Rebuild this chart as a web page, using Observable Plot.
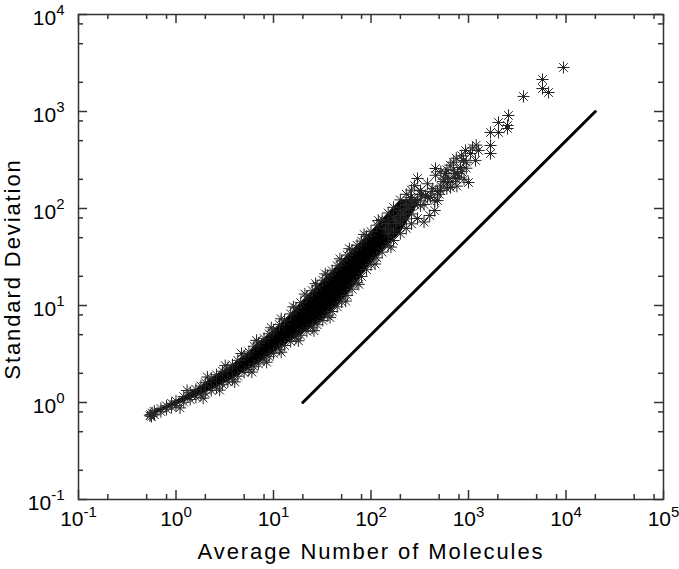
<!DOCTYPE html>
<html><head><meta charset="utf-8">
<script src="https://cdn.jsdelivr.net/npm/d3@7"></script>
<script src="https://cdn.jsdelivr.net/npm/@observablehq/plot@0.6"></script>
<style>
body{margin:0;background:#fff;}
</style></head><body><div id="chart"></div>
<script>
// ---- data ----
const xTitle = "Average Number of Molecules";
const yTitle = "Standard Deviation";
const majorX = [0.1, 1, 10, 100, 1000, 10000, 100000];
const minorX = [0.2,0.5,0.8,2,5,8,20,50,80,200,500,800,2000,5000,8000,20000,50000,80000];
const majorY = [0.1, 1, 10, 100, 1000, 10000];
const minorY = [0.2,0.5,0.8,2,5,8,20,50,80,200,500,800,2000,5000,8000];

// dense core of the cloud: x with lower / upper envelope of point centres
const bandX = [0.6,0.7,0.8,0.9,1,1.2,1.4,1.6,1.8,2,2.3,2.6,3,3.4,3.8,4.3,5,5.6,6.3,7,8,9,10,11.5,13,15,17,19,22,25,28,32,36,40,45,50,57,64,72,80,90,100,115,130,150,170,200,230,260];
const bandHigh = [0.815,0.867,0.922,0.981,1.039,1.15,1.259,1.365,1.479,1.6,1.78,1.93,2.1,2.26,2.45,2.72,3.03,3.32,3.8,4.11,4.58,5.1,5.6,6.35,7.07,8.2,9.45,10.7,12.5,14.2,15.9,18.2,20.5,22.8,25.7,28.8,33.1,37.3,41.7,46.1,51.7,57.7,67.3,77.1,89.9,102.8,122.7,140,154.5];
const bandLow = [0.748,0.804,0.851,0.894,0.933,1.007,1.074,1.134,1.195,1.25,1.33,1.414,1.526,1.63,1.734,1.867,2.04,2.18,2.34,2.5,2.74,2.97,3.21,3.54,3.87,4.25,4.6,4.93,5.42,5.89,6.34,7.02,7.85,8.67,9.7,10.9,12.7,14.7,17.2,19.9,23.4,26.4,31,35.5,41.2,46.8,55,62.4,69.5];
const coreMaxX = 200;   // solid core drawn up to here ...
const coreEndX = 330;   // ... then tapering to a point here
const coreEndY = 125;

// lower-left tip of the cloud
const tipX = [0.54,0.55,0.57,0.56];
const tipY = [0.73,0.75,0.78,0.72];

// points sticking out of the band edges
const spikeX = [1.3,2.1,3.2,4.7,6.7,9.5,12,16,21,27,34,48,60,85, 1.1,1.9,2.8,4,6,8.5,12,18,26,38,55,75,110,160];
const spikeY = [1.33,1.83,2.4,3.2,4.37,5.9,7.3,9.7,13.1,16.8,21.2,30.3,38.5,54, 0.88,1.11,1.34,1.63,2.06,2.6,3.3,4.33,5.5,7.5,11.1,16.5,26.8,40];

// points inside the thinning upper part of the cloud
const midX = [140,150,150,170,170,185,200,200,215,230,230,245,260,260,280,300,320,350,380,420,450,460,480,520,520,550,600,600,620,650,680,700,720,750,760,850,850,900,950,950,1100,1200];
const midY = [62,55,70,60,80,75,70,95,88,78,110,100,88,125,110,120,140,110,130,150,120,220,150,170,240,190,160,250,210,280,190,300,230,330,170,240,350,200,260,300,420,450];

// sparse points at high averages
const sparseX = [119,178,201,226,267,254,300,322,322,362,300,350,400,450,407,481,459,516,581,609,653,736,771,828,889,931,1000,1049,1180,1268,1683,1683,1683,2032,2032,2512,2512,2570,3664,5741,5741,6622,9423,280,330,380,430,500,560,700,800];
const sparseY = [75.2,75.2,84.7,107,121,129.8,203.8,107,153,136,78.9,72.6,84.7,95.3,130,120.8,258.4,153,229.5,185,164.4,204,229.5,264.7,313,396,185.4,369,313,396,369,608,446,771,608,717,668,910,1429,2138,1726,1570,2843,172,140,180,160,140,200,250,210];

// reference line (slope 1)
const refX = [20, 20000];
const refY = [1, 1000];

// ---- build ----
const W = 679, H = 569, mL = 78, mR = 16, mT = 14, mB = 70;
const plotW = W - mL - mR, plotH = H - mT - mB;

const band = bandX.map((x, i) => ({x, lo: bandLow[i], hi: bandHigh[i]}))
  .filter(d => d.x <= coreMaxX)
  .concat([{x: coreEndX, lo: coreEndY, hi: coreEndY}]);
const pts = [
  ...bandX.map((x, i) => ({x, y: bandHigh[i]})),
  ...bandX.map((x, i) => ({x, y: bandLow[i]})),
  ...tipX.map((x, i) => ({x, y: tipY[i]})),
  ...spikeX.map((x, i) => ({x, y: spikeY[i]})),
  ...midX.map((x, i) => ({x, y: midY[i]})),
  ...sparseX.map((x, i) => ({x, y: sparseY[i]}))
];
const ref = refX.map((x, i) => ({x, y: refY[i]}));
const fmt = d => "10^" + Math.round(Math.log10(d));
const tickColor = "#333";

const chart = Plot.plot({
  width: W, height: H,
  marginLeft: mL, marginRight: mR, marginTop: mT, marginBottom: mB,
  style: {fontFamily: "'Liberation Sans', Arial, sans-serif", background: "white", color: "black"},
  x: {type: "log", domain: [0.1, 1e5]},
  y: {type: "log", domain: [0.1, 1e4]},
  marks: [
    Plot.areaY(band, {x: "x", y1: "lo", y2: "hi", fill: "black"}),
    Plot.dot(pts, {x: "x", y: "y", symbol: "plus", r: 4, stroke: "#262626", strokeWidth: 1, fill: "none"}),
    Plot.dot(pts, {x: "x", y: "y", symbol: "times", r: 4, stroke: "#262626", strokeWidth: 1, fill: "none"}),
    Plot.line(ref, {x: "x", y: "y", stroke: "black", strokeWidth: 3}),
    Plot.frame({stroke: tickColor, strokeWidth: 1.5}),
    // inward ticks on all four sides
    Plot.tickX(majorX, {x: d => d, insetTop: plotH - 9, stroke: tickColor, strokeWidth: 1.5}),
    Plot.tickX(minorX, {x: d => d, insetTop: plotH - 5, stroke: tickColor, strokeWidth: 1.5}),
    Plot.tickX(majorX, {x: d => d, insetBottom: plotH - 9, stroke: tickColor, strokeWidth: 1.5}),
    Plot.tickX(minorX, {x: d => d, insetBottom: plotH - 5, stroke: tickColor, strokeWidth: 1.5}),
    Plot.tickY(majorY, {y: d => d, insetRight: plotW - 9, stroke: tickColor, strokeWidth: 1.5}),
    Plot.tickY(minorY, {y: d => d, insetRight: plotW - 5, stroke: tickColor, strokeWidth: 1.5}),
    Plot.tickY(majorY, {y: d => d, insetLeft: plotW - 9, stroke: tickColor, strokeWidth: 1.5}),
    Plot.tickY(minorY, {y: d => d, insetLeft: plotW - 5, stroke: tickColor, strokeWidth: 1.5}),
    Plot.axisX(majorX, {anchor: "bottom", tickSize: 0, tickPadding: 12, tickFormat: fmt, fontSize: 21, label: null}),
    Plot.axisY(majorY, {anchor: "left", tickSize: 0, tickPadding: 14, tickFormat: fmt, fontSize: 21, label: null, dy: 4}),
    Plot.text([xTitle], {text: d => d, frameAnchor: "bottom", dy: 59, lineAnchor: "bottom", fontSize: 22}),
    Plot.text([yTitle], {text: d => d, frameAnchor: "left", textAnchor: "middle", dx: -65.5, dy: 12, rotate: -90, fontSize: 22})
  ]
});

// superscript exponents on tick labels
d3.select(chart).selectAll('g[aria-label="x-axis tick label"] text, g[aria-label="y-axis tick label"] text').each(function () {
  const t = d3.select(this);
  const s = t.text();
  if (!s.includes("^")) return;
  const [b, e] = s.split("^");
  t.text(null);
  t.append("tspan").text(b);
  t.append("tspan").attr("dy", "-0.65em").attr("font-size", "15px").text(e);
});
d3.select(chart).selectAll("text").filter(function () {
  return this.textContent === xTitle || this.textContent === yTitle;
}).attr("letter-spacing", "1.9px");

document.getElementById("chart").appendChild(chart);
</script>
</body></html>
